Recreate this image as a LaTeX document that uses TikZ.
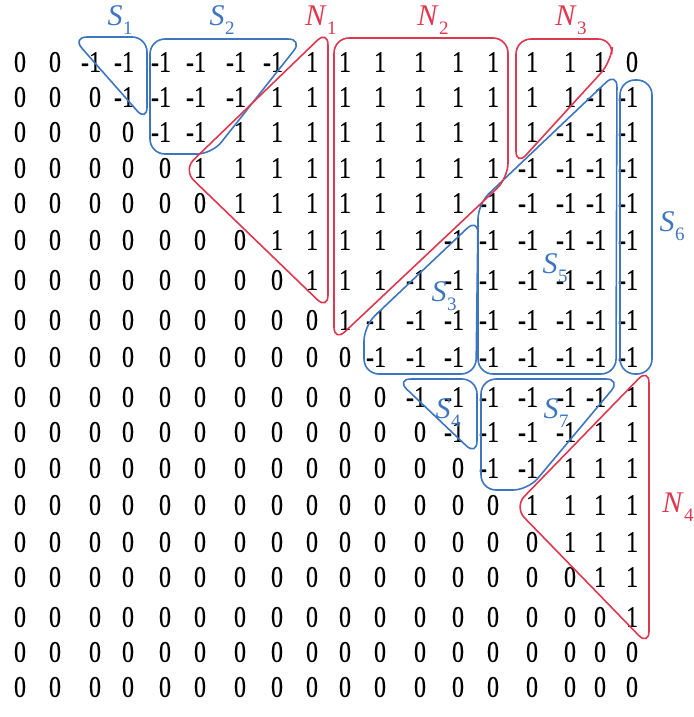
\documentclass[tikz,border=0pt]{standalone}
\usepackage{fontspec}
\setmainfont{Liberation Serif}
\newfontfamily\digfont[FakeStretch=0.8,FakeBold=0.4]{Liberation Serif}
\definecolor{sblue}{RGB}{62,118,190}
\definecolor{nred}{RGB}{222,56,80}
\newcommand\ent[1]{\ifnum#1<0 \llap{-}1\else#1\fi}
\newcommand\lbl[2]{\textit{#1}\kern0.5pt\raisebox{-0.3em}{\fontsize{19}{19}\selectfont #2}}
\begin{document}
\begin{tikzpicture}[x=1pt,y=-1pt,
  cell/.style={inner sep=0pt, font=\digfont\fontsize{30}{30}\selectfont},
  sshape/.style={draw=sblue, line width=1.6pt, rounded corners=15pt},
  nshape/.style={draw=nred, line width=1.6pt, rounded corners=15pt},
  slab/.style={text=sblue, inner sep=0pt, font=\fontsize{30}{30}\selectfont},
  nlab/.style={text=nred, inner sep=0pt, font=\fontsize{30}{30}\selectfont}]
\useasboundingbox (0,0) rectangle (693,717);
\def\xs{{20,55,95,128,165,200,240,277,312,345,380,420,458,493,532,570,600,632}}
\def\ys{{62,97,132,168,203,240,280,320,357,397,432,468,505,542,577,617,652,687}}
\foreach \row [count=\r] in {
 {0,0,-1,-1,-1,-1,-1,-1,1,1,1,1,1,1,1,1,1,0},
 {0,0,0,-1,-1,-1,-1,1,1,1,1,1,1,1,1,1,-1,-1},
 {0,0,0,0,-1,-1,1,1,1,1,1,1,1,1,1,-1,-1,-1},
 {0,0,0,0,0,1,1,1,1,1,1,1,1,1,-1,-1,-1,-1},
 {0,0,0,0,0,0,1,1,1,1,1,1,1,-1,-1,-1,-1,-1},
 {0,0,0,0,0,0,0,1,1,1,1,1,-1,-1,-1,-1,-1,-1},
 {0,0,0,0,0,0,0,0,1,1,1,-1,-1,-1,-1,-1,-1,-1},
 {0,0,0,0,0,0,0,0,0,1,-1,-1,-1,-1,-1,-1,-1,-1},
 {0,0,0,0,0,0,0,0,0,0,-1,-1,-1,-1,-1,-1,-1,-1},
 {0,0,0,0,0,0,0,0,0,0,0,-1,-1,-1,-1,-1,-1,1},
 {0,0,0,0,0,0,0,0,0,0,0,0,-1,-1,-1,-1,1,1},
 {0,0,0,0,0,0,0,0,0,0,0,0,0,-1,-1,1,1,1},
 {0,0,0,0,0,0,0,0,0,0,0,0,0,0,1,1,1,1},
 {0,0,0,0,0,0,0,0,0,0,0,0,0,0,0,1,1,1},
 {0,0,0,0,0,0,0,0,0,0,0,0,0,0,0,0,1,1},
 {0,0,0,0,0,0,0,0,0,0,0,0,0,0,0,0,0,1},
 {0,0,0,0,0,0,0,0,0,0,0,0,0,0,0,0,0,0},
 {0,0,0,0,0,0,0,0,0,0,0,0,0,0,0,0,0,0}} {
  \foreach \v [count=\c] in \row {
    \pgfmathsetmacro\px{\xs[\c-1]}
    \pgfmathsetmacro\py{\ys[\r-1]}
    \node[cell] (m-\r-\c) at (\px,\py) {\ent{\v}};
  }
}
% blue groups
\draw[sshape] (72,37) -- (147,37) -- (147,122) -- cycle;            % S1
\draw[sshape] (150,39) -- (303,39) -- (212,154) -- (150,154) -- cycle; % S2
\draw[sshape] (364,374) -- (364,326) -- (478,218) -- (476,374) -- cycle; % S3
\draw[sshape] (396,379) -- (477,379) -- (477,456) -- cycle;         % S4
\draw[sshape] (478,374) -- (478,204) -- (617,72) -- (616,374) -- cycle; % S5
\draw[sshape, rounded corners=15pt] (620,80) rectangle (652,374);   % S6
\draw[sshape] (481,379) -- (621,379) -- (528,490) -- (481,490) -- cycle; % S7
% red groups
\draw[nshape] (328,30) -- (328,310) -- (183,170) -- cycle;          % N1
\draw[nshape] (334,38) -- (508,38) -- (508,178) -- (334,342) -- cycle; % N2
\draw[nshape] (516,39) -- (613,39) -- (611,62) -- (516,166) -- cycle; % N3
\draw[nshape] (649,368) -- (649,646) -- (514,507) -- cycle;         % N4
% labels
\node[slab] (lS1) at (120,20) {\lbl{S}{1}};
\node[slab] (lS2) at (222,20) {\lbl{S}{2}};
\node[nlab] (lN1) at (321,20) {\lbl{N}{1}};
\node[nlab] (lN2) at (433,20) {\lbl{N}{2}};
\node[nlab] (lN3) at (571,20) {\lbl{N}{3}};
\node[slab] (lS3) at (444,296) {\lbl{S}{3}};
\node[slab] (lS4) at (448,413) {\lbl{S}{4}};
\node[slab] (lS5) at (555,268) {\lbl{S}{5}};
\node[slab] (lS6) at (672,226) {\lbl{S}{6}};
\node[slab] (lS7) at (556,413) {\lbl{S}{7}};
\node[nlab] (lN4) at (678,507) {\lbl{N}{4}};
\end{tikzpicture}
\end{document}
